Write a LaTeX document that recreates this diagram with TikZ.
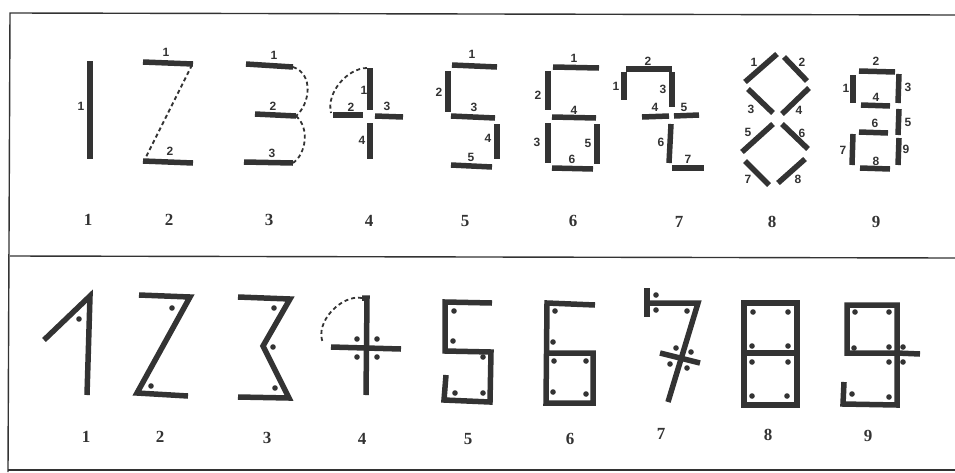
\documentclass[tikz,border=0pt]{standalone}
\usepackage{fontspec}
\setmainfont{Liberation Serif}
\setsansfont{Liberation Sans}
\usetikzlibrary{calc}
\definecolor{inkgray}{HTML}{333333}
\tikzset{
  seg/.style={draw=inkgray, line width=5.5pt},
  stroke/.style={draw=inkgray, line width=5.5pt, line join=miter},
  dashcurve/.style={draw=inkgray, line width=1.8pt, dash pattern=on 4pt off 3pt},
  lbl/.style={inner sep=0pt, font=\sffamily\bfseries\fontsize{12}{12}\selectfont, text=inkgray},
  captxt/.style={inner sep=0pt, font=\bfseries\fontsize{17}{17}\selectfont, text=inkgray},
  frame/.style={draw=inkgray, line width=1.4pt}
}
\newcommand{\pin}[2]{\fill[inkgray] (#1,#2) circle (2.8pt);}
\begin{document}
\begin{tikzpicture}[x=1pt, y=-1pt]
  \useasboundingbox (0,0) rectangle (955,472);
  % frame
  \draw[frame] (955,15) -- (10,13) -- (8,472);
  \draw[frame] (10,256) -- (955,258);
  \draw[frame] (8,470) -- (955,470);

  % ---- top row: numbered strokes ----
  % one
  \draw[seg] (90,61) -- (90,159);
  \node[lbl] (t1a) at (81,106) {1};
  % two
  \draw[seg] (143,62) -- (193,64);
  \draw[dashcurve] (192,65) -- (146,157);
  \draw[seg] (143,161) -- (193,163);
  \node[lbl] (t2a) at (166,52) {1};
  \node[lbl] (t2b) at (170,151) {2};
  % three
  \draw[seg] (246,64) -- (293,67);
  \draw[seg] (255,114) -- (296,116);
  \draw[seg] (244,162) -- (293,163);
  \draw[dashcurve] (293,67) .. controls (314,74) and (310,104) .. (296,116);
  \draw[dashcurve] (296,116) .. controls (310,128) and (306,154) .. (293,163);
  \node[lbl] (t3a) at (274,55) {1};
  \node[lbl] (t3b) at (273,106) {2};
  \node[lbl] (t3c) at (272,153) {3};
  % four
  \draw[seg] (370,68) -- (370,110);
  \draw[seg] (333,115) -- (363,115);
  \draw[seg] (375,116) -- (403,117);
  \draw[seg] (370,123) -- (370,159);
  \draw[dashcurve] (367,68) .. controls (348,68) and (326,92) .. (331,113);
  \node[lbl] (t4a) at (364,90) {1};
  \node[lbl] (t4b) at (351,107) {2};
  \node[lbl] (t4c) at (387,106) {3};
  \node[lbl] (t4d) at (362,140) {4};
  % five
  \draw[seg] (452,65) -- (497,67);
  \draw[seg] (448,71) -- (448,112);
  \draw[seg] (451,116) -- (495,118);
  \draw[seg] (497,124) -- (497,159);
  \draw[seg] (451,165) -- (492,167);
  \node[lbl] (t5a) at (472,54) {1};
  \node[lbl] (t5b) at (439,92) {2};
  \node[lbl] (t5c) at (474,107) {3};
  \node[lbl] (t5d) at (488,138) {4};
  \node[lbl] (t5e) at (471,157) {5};
  % six
  \draw[seg] (553,67) -- (599,68);
  \draw[seg] (548,71) -- (548,110);
  \draw[seg] (552,117) -- (596,118);
  \draw[seg] (548,123) -- (548,163);
  \draw[seg] (597,124) -- (597,164);
  \draw[seg] (552,168) -- (593,169);
  \node[lbl] (t6a) at (574,58) {1};
  \node[lbl] (t6b) at (538,95) {2};
  \node[lbl] (t6c) at (537,142) {3};
  \node[lbl] (t6d) at (574,110) {4};
  \node[lbl] (t6e) at (588,143) {5};
  \node[lbl] (t6f) at (572,159) {6};
  % seven
  \draw[seg] (624,72) -- (624,100);
  \draw[seg] (626,69) -- (672,69);
  \draw[seg] (672,72) -- (672,107);
  \draw[seg] (642,117) -- (669,116);
  \draw[seg] (674,116) -- (699,115);
  \draw[seg] (671,124) -- (669,163);
  \draw[seg] (672,168) -- (704,168);
  \node[lbl] (t7a) at (616,86) {1};
  \node[lbl] (t7b) at (648,61) {2};
  \node[lbl] (t7c) at (663,89) {3};
  \node[lbl] (t7d) at (655,107) {4};
  \node[lbl] (t7e) at (684,107) {5};
  \node[lbl] (t7f) at (661,142) {6};
  \node[lbl] (t7g) at (688,159) {7};
  % eight
  \draw[seg] (745,82) -- (777,54);
  \draw[seg] (784,57) -- (807,81);
  \draw[seg] (748,89) -- (773,113);
  \draw[seg] (782,114) -- (809,88);
  \draw[seg] (742,152) -- (773,124);
  \draw[seg] (782,124) -- (808,149);
  \draw[seg] (745,161) -- (769,185);
  \draw[seg] (778,183) -- (805,159);
  \node[lbl] (t8a) at (754,62) {1};
  \node[lbl] (t8b) at (802,62) {2};
  \node[lbl] (t8c) at (751,109) {3};
  \node[lbl] (t8d) at (799,110) {4};
  \node[lbl] (t8e) at (748,132) {5};
  \node[lbl] (t8f) at (802,133) {6};
  \node[lbl] (t8g) at (748,179) {7};
  \node[lbl] (t8h) at (798,179) {8};
  % nine
  \draw[seg] (853,75) -- (853,103);
  \draw[seg] (859,71) -- (895,72);
  \draw[seg] (899,74) -- (898,103);
  \draw[seg] (861,105) -- (890,106);
  \draw[seg] (899,109) -- (898,135);
  \draw[seg] (859,132) -- (888,133);
  \draw[seg] (853,134) -- (852,165);
  \draw[seg] (860,168) -- (890,169);
  \draw[seg] (899,138) -- (898,165);
  \node[lbl] (t9a) at (846,88) {1};
  \node[lbl] (t9b) at (876,61) {2};
  \node[lbl] (t9c) at (908,87) {3};
  \node[lbl] (t9d) at (876,97) {4};
  \node[lbl] (t9e) at (908,122) {5};
  \node[lbl] (t9f) at (875,123) {6};
  \node[lbl] (t9g) at (843,150) {7};
  \node[lbl] (t9h) at (876,161) {8};
  \node[lbl] (t9i) at (906,149) {9};
  % captions, top row
  \foreach \n/\cx/\cy in {1/88/220,2/169/220,3/269/220,4/369/221,5/465/221,6/573/221,7/679/222,8/772/222,9/876/222}
    \node[captxt] (topcap\n) at (\cx,\cy) {\n};

  % ---- bottom row: one-stroke forms with dots ----
  % one
  \draw[stroke] (44,340) -- (90,296) -- (87,395);
  \pin{79}{319}
  % two
  \draw[stroke] (139,295) -- (190,297) -- (137,393) -- (188,396);
  \pin{172}{308} \pin{151}{386}
  % three
  \draw[stroke] (238,297) -- (290,299) -- (263,346) -- (289,398) -- (238,397);
  \pin{274}{308} \pin{273}{347} \pin{275}{388}
  % four
  \draw[stroke] (362,298) -- (367,298) -- (366,395);
  \draw[stroke] (331,347) -- (401,349);
  \draw[dashcurve] (362,298) .. controls (342,294) and (314,322) .. (323,343);
  \pin{357}{339} \pin{377}{339} \pin{357}{357} \pin{377}{357}
  % five
  \draw[stroke] (492,303) -- (445,302) -- (445,351) -- (491,352) -- (490,402) -- (444,400) -- (446,375);
  \pin{454}{311} \pin{453}{341} \pin{483}{357} \pin{455}{393} \pin{483}{393}
  % six
  \draw[stroke] (595,305) -- (547,303) -- (546,403) -- (593,403) -- (593,353) -- (547,353);
  \pin{555}{311} \pin{553}{342} \pin{554}{361} \pin{586}{361} \pin{553}{392} \pin{586}{394}
  % seven
  \draw[stroke] (647,288) -- (647,317);
  \draw[stroke] (647,303) -- (698,303) -- (668,402);
  \draw[stroke] (660,353) -- (700,363);
  \pin{656}{295} \pin{656}{310} \pin{687}{311} \pin{676}{348} \pin{691}{352} \pin{670}{364} \pin{687}{368}
  % eight
  \draw[stroke] (744,303) rectangle (797,405);
  \draw[stroke] (744,353) -- (797,353);
  \pin{753}{312} \pin{788}{312} \pin{752}{346} \pin{788}{346}
  \pin{752}{362} \pin{788}{362} \pin{752}{396} \pin{787}{396}
  % nine
  \draw[stroke] (897,353) -- (847,353) -- (847,305) -- (897,305) -- (897,405) -- (843,404) -- (844,382);
  \draw[stroke] (897,353) -- (920,354);
  \pin{855}{312} \pin{889}{312} \pin{854}{348} \pin{889}{347} \pin{903}{347}
  \pin{889}{362} \pin{903}{362} \pin{852}{394} \pin{889}{397}
  % captions, bottom row
  \foreach \n/\cx/\cy in {1/86/437,2/160/437,3/267/438,4/362/439,5/468/439,6/570/439,7/661/434,8/768/435,9/868/436}
    \node[captxt] (botcap\n) at (\cx,\cy) {\n};
\end{tikzpicture}
\end{document}
